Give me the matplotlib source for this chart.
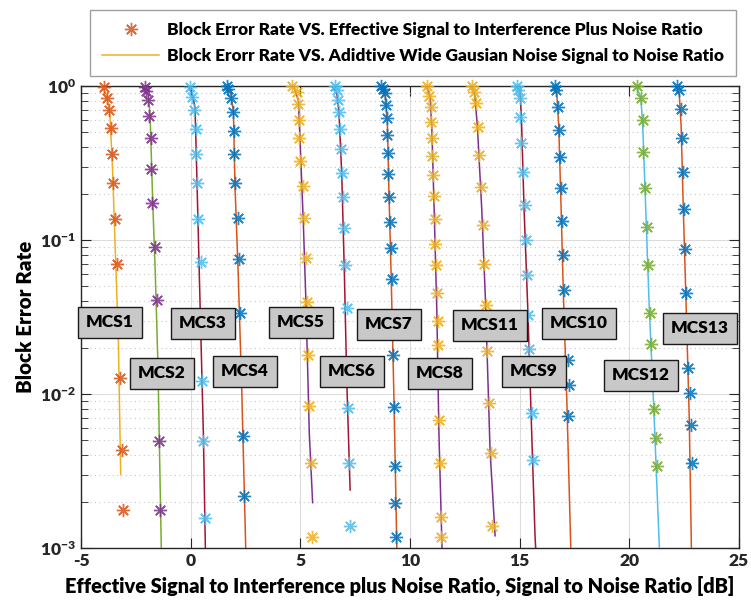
import matplotlib
matplotlib.use("Agg")
import matplotlib.pyplot as plt
from matplotlib.ticker import LogLocator, NullFormatter

plt.rcParams['font.family'] = ['Lato', 'DejaVu Sans']
plt.rcParams['font.weight'] = 'heavy'
plt.rcParams['mathtext.fontset'] = 'custom'
plt.rcParams['mathtext.rm'] = 'Lato:heavy'
plt.rcParams['mathtext.bf'] = 'Lato:heavy'
plt.rcParams['mathtext.it'] = 'Lato:heavy'
plt.rcParams['axes.unicode_minus'] = False

# BLER vs ESINR (markers) and BLER vs AWGN SNR (lines), per MCS
mcs1_esinr_x = [-3.95, -3.80, -3.71, -3.65, -3.59, -3.54, -3.45, -3.37, -3.22, -3.14, -3.10]
mcs1_esinr_bler = [0.99, 0.84, 0.70, 0.535, 0.363, 0.235, 0.136, 0.070, 0.0127, 0.00435, 0.00176]
mcs1_awgn_x = [-4.06, -3.83, -3.68, -3.55, -3.45, -3.30, -3.19]
mcs1_awgn_bler = [1.0, 0.87, 0.65, 0.264, 0.097, 0.0235, 0.003]

mcs2_esinr_x = [-2.08, -2.03, -1.93, -1.89, -1.82, -1.81, -1.75, -1.61, -1.55, -1.46, -1.40]
mcs2_esinr_bler = [0.99, 0.93, 0.81, 0.635, 0.459, 0.291, 0.173, 0.090, 0.0405, 0.00495, 0.00176]
mcs2_awgn_x = [-2.16, -1.93, -1.85, -1.73, -1.61, -1.49, -1.34]
mcs2_awgn_bler = [1.0, 0.87, 0.65, 0.177, 0.059, 0.015, 0.001]

mcs3_esinr_x = [-0.03, 0.05, 0.17, 0.23, 0.26, 0.30, 0.35, 0.46, 0.53, 0.58, 0.64]
mcs3_esinr_bler = [0.99, 0.85, 0.70, 0.527, 0.363, 0.235, 0.136, 0.072, 0.0121, 0.00495, 0.00157]
mcs3_awgn_x = [-0.11, 0.09, 0.20, 0.28, 0.43, 0.58, 0.67]
mcs3_awgn_bler = [1.0, 0.87, 0.72, 0.264, 0.0376, 0.0055, 0.001]

mcs4_esinr_x = [1.64, 1.72, 1.83, 1.92, 1.98, 1.99, 2.02, 2.17, 2.22, 2.25, 2.37, 2.42]
mcs4_esinr_bler = [1.0, 0.95, 0.83, 0.674, 0.51, 0.361, 0.235, 0.139, 0.0749, 0.0335, 0.00536, 0.00217]
mcs4_awgn_x = [1.52, 1.83, 1.95, 2.02, 2.17, 2.33, 2.51]
mcs4_awgn_bler = [1.0, 0.896, 0.68, 0.227, 0.059, 0.0105, 0.001]

mcs5_esinr_x = [4.64, 4.83, 4.91, 4.94, 4.95, 4.99, 5.11, 5.17, 5.25, 5.29, 5.35, 5.41, 5.47, 5.55]
mcs5_esinr_bler = [1.0, 0.92, 0.76, 0.60, 0.457, 0.327, 0.224, 0.139, 0.0768, 0.0395, 0.0180, 0.00832, 0.00356, 0.00118]
mcs5_awgn_x = [4.68, 4.91, 4.99, 5.14, 5.26, 5.41, 5.56]
mcs5_awgn_bler = [1.0, 0.81, 0.435, 0.125, 0.0376, 0.0055, 0.00197]

mcs6_esinr_x = [6.58, 6.66, 6.73, 6.76, 6.81, 6.84, 6.90, 6.95, 6.98, 7.04, 7.12, 7.18, 7.22, 7.27]
mcs6_esinr_bler = [1.0, 0.94, 0.81, 0.68, 0.525, 0.389, 0.274, 0.19, 0.12, 0.069, 0.0363, 0.00816, 0.00356, 0.00138]
mcs6_awgn_x = [6.46, 6.66, 6.76, 6.89, 7.01, 7.12, 7.27]
mcs6_awgn_bler = [1.0, 0.896, 0.68, 0.264, 0.059, 0.0117, 0.00238]

mcs7_esinr_x = [8.70, 8.78, 8.86, 8.91, 8.94, 8.97, 8.98, 9.01, 9.06, 9.09, 9.12, 9.17, 9.24, 9.27, 9.30, 9.33, 9.36]
mcs7_esinr_bler = [1.0, 0.96, 0.896, 0.752, 0.622, 0.48, 0.365, 0.267, 0.19, 0.131, 0.0887, 0.0561, 0.0178, 0.0082, 0.00339, 0.00197, 0.00118]
mcs7_awgn_x = [8.67, 8.86, 8.97, 9.04, 9.14, 9.27, 9.40]
mcs7_awgn_bler = [1.0, 0.896, 0.557, 0.205, 0.059, 0.0091, 0.001]

mcs8_esinr_x = [10.79, 10.88, 10.95, 10.96, 10.99, 11.02, 11.07, 11.10, 11.13, 11.14, 11.19, 11.22, 11.27, 11.27, 11.34, 11.37, 11.42, 11.43]
mcs8_esinr_bler = [1.0, 0.865, 0.727, 0.586, 0.457, 0.351, 0.264, 0.192, 0.136, 0.0947, 0.0685, 0.0455, 0.0296, 0.0209, 0.00678, 0.00354, 0.00158, 0.00118]
mcs8_awgn_x = [10.73, 10.91, 10.99, 11.10, 11.22, 11.32, 11.46]
mcs8_awgn_bler = [1.0, 0.87, 0.557, 0.16, 0.0358, 0.0055, 0.001]

mcs9_esinr_x = [14.87, 14.94, 15.02, 15.02, 15.06, 15.17, 15.25, 15.29, 15.35, 15.40, 15.44, 15.57, 15.63]
mcs9_esinr_bler = [1.0, 0.94, 0.83, 0.63, 0.424, 0.277, 0.170, 0.0995, 0.0589, 0.0327, 0.0195, 0.00754, 0.00374]
mcs9_awgn_x = [14.79, 15.02, 15.09, 15.20, 15.37, 15.55, 15.70, 15.73]
mcs9_awgn_bler = [1.0, 0.94, 0.557, 0.16, 0.0358, 0.0055, 0.0012, 0.001]

mcs10_esinr_x = [16.61, 16.66, 16.74, 16.80, 16.84, 16.87, 16.92, 16.96, 17.01, 17.19, 17.24, 17.22]
mcs10_esinr_bler = [1.0, 0.94, 0.727, 0.517, 0.344, 0.219, 0.133, 0.0803, 0.0471, 0.0167, 0.0115, 0.00716]
mcs10_awgn_x = [16.54, 16.69, 16.78, 16.89, 16.99, 17.15, 17.33]
mcs10_awgn_bler = [1.0, 0.896, 0.557, 0.16, 0.046, 0.0091, 0.001]

mcs11_esinr_x = [12.82, 12.92, 13.01, 13.09, 13.16, 13.24, 13.32, 13.39, 13.47, 13.53, 13.60, 13.68, 13.76]
mcs11_esinr_bler = [1.0, 0.92, 0.77, 0.543, 0.356, 0.221, 0.125, 0.070, 0.0376, 0.0191, 0.00879, 0.00416, 0.00138]
mcs11_awgn_x = [12.77, 12.94, 13.07, 13.27, 13.45, 13.65, 13.88]
mcs11_awgn_bler = [1.0, 0.896, 0.557, 0.16, 0.0376, 0.0043, 0.0012]

mcs12_esinr_x = [20.37, 20.52, 20.61, 20.64, 20.72, 20.80, 20.87, 20.95, 20.99, 21.14, 21.22, 21.28]
mcs12_esinr_bler = [1.0, 0.84, 0.60, 0.374, 0.218, 0.122, 0.0685, 0.0337, 0.0212, 0.0080, 0.00518, 0.00339]
mcs12_awgn_x = [20.31, 20.52, 20.61, 20.72, 20.91, 21.10, 21.37]
mcs12_awgn_bler = [1.0, 0.85, 0.557, 0.205, 0.0358, 0.0091, 0.001]

mcs13_esinr_x = [22.19, 22.25, 22.35, 22.39, 22.44, 22.48, 22.54, 22.59, 22.69, 22.76, 22.80, 22.86]
mcs13_esinr_bler = [1.0, 0.94, 0.708, 0.461, 0.277, 0.158, 0.0869, 0.0455, 0.0147, 0.0101, 0.00632, 0.00356]
mcs13_awgn_x = [22.13, 22.28, 22.36, 22.46, 22.59, 22.73, 22.83]
mcs13_awgn_bler = [1.0, 0.87, 0.557, 0.16, 0.0376, 0.0071, 0.001]

mcs_names = ['MCS1', 'MCS2', 'MCS3', 'MCS4', 'MCS5', 'MCS6', 'MCS7',
             'MCS8', 'MCS9', 'MCS10', 'MCS11', 'MCS12', 'MCS13']

# colores por defecto de MATLAB
AZUL = '#0072BD'
NARANJA = '#D95319'
AMARILLO = '#EDB120'
MORADO = '#7E2F8E'
VERDE = '#77AC30'
CELESTE = '#4DBEEE'
GRANATE = '#A2142F'

curvas = [
    (mcs1_esinr_x, mcs1_esinr_bler, mcs1_awgn_x, mcs1_awgn_bler, NARANJA, AMARILLO),
    (mcs2_esinr_x, mcs2_esinr_bler, mcs2_awgn_x, mcs2_awgn_bler, MORADO, VERDE),
    (mcs3_esinr_x, mcs3_esinr_bler, mcs3_awgn_x, mcs3_awgn_bler, CELESTE, GRANATE),
    (mcs4_esinr_x, mcs4_esinr_bler, mcs4_awgn_x, mcs4_awgn_bler, AZUL, NARANJA),
    (mcs5_esinr_x, mcs5_esinr_bler, mcs5_awgn_x, mcs5_awgn_bler, AMARILLO, MORADO),
    (mcs6_esinr_x, mcs6_esinr_bler, mcs6_awgn_x, mcs6_awgn_bler, CELESTE, GRANATE),
    (mcs7_esinr_x, mcs7_esinr_bler, mcs7_awgn_x, mcs7_awgn_bler, AZUL, NARANJA),
    (mcs8_esinr_x, mcs8_esinr_bler, mcs8_awgn_x, mcs8_awgn_bler, AMARILLO, MORADO),
    (mcs9_esinr_x, mcs9_esinr_bler, mcs9_awgn_x, mcs9_awgn_bler, CELESTE, GRANATE),
    (mcs10_esinr_x, mcs10_esinr_bler, mcs10_awgn_x, mcs10_awgn_bler, AZUL, NARANJA),
    (mcs11_esinr_x, mcs11_esinr_bler, mcs11_awgn_x, mcs11_awgn_bler, AMARILLO, MORADO),
    (mcs12_esinr_x, mcs12_esinr_bler, mcs12_awgn_x, mcs12_awgn_bler, VERDE, CELESTE),
    (mcs13_esinr_x, mcs13_esinr_bler, mcs13_awgn_x, mcs13_awgn_bler, AZUL, NARANJA),
]

# posicion de las etiquetas (x en dB, y en BLER)
etiquetas_pos = [(-3.68, 0.0292), (-1.31, 0.0136), (0.56, 0.0287), (2.48, 0.0140),
                 (5.03, 0.0292), (7.36, 0.0140), (9.04, 0.0283), (11.37, 0.0136),
                 (15.66, 0.0140), (17.71, 0.0287), (13.65, 0.0279), (20.54, 0.0132),
                 (23.23, 0.0267)]

fig = plt.figure(figsize=(7.51, 6.05), dpi=100)
ax = fig.add_axes([81 / 751, 1 - 548 / 605, 658 / 751, 462 / 605])

asterisco = (8, 2, 0)
h_marker = h_linea = None
for ex, ey, ax_x, ax_y, c_mark, c_lin in curvas:
    ln, = ax.plot(ax_x, ax_y, '-', color=c_lin, lw=1.1, zorder=3)
    mk, = ax.plot(ex, ey, linestyle='none', marker=asterisco, ms=9.5, mew=1.0,
                  color=c_mark, alpha=0.85, zorder=4, clip_on=False)
    if h_marker is None:
        h_marker, h_linea = mk, ln

for nombre, (px, py) in zip(mcs_names, etiquetas_pos):
    ax.text(px, py, nombre, ha='center', va='center', fontsize=12.5, fontweight='heavy',
            zorder=6, bbox=dict(boxstyle='square,pad=0.45', facecolor='#C8C8C8',
                                edgecolor='#1a1a1a', linewidth=1.0))

ax.set_yscale('log')
ax.set_xlim(-5, 25)
ax.set_ylim(1e-3, 1)
ax.set_xticks([-5, 0, 5, 10, 15, 20, 25])
ax.yaxis.set_major_locator(LogLocator(base=10, numticks=10))
ax.yaxis.set_minor_locator(LogLocator(base=10, subs=range(2, 10), numticks=10))
ax.yaxis.set_minor_formatter(NullFormatter())

ax.grid(True, which='major', color='#dcdcdc', lw=0.8, ls='-')
ax.grid(True, which='minor', axis='y', color='#c8c8c8', lw=0.8, ls=(0, (1, 3)))
ax.set_axisbelow(True)

ax.tick_params(which='both', direction='in', top=True, right=True, colors='#262626',
               labelsize=12.5)
ax.tick_params(which='major', length=7)
ax.tick_params(which='minor', length=5)
for s in ax.spines.values():
    s.set_color('#262626')
    s.set_linewidth(1.0)

ax.set_xlabel('Effective Signal to Interference plus Noise Ratio, Signal to Noise Ratio [dB]',
              fontsize=14.4, fontweight='heavy', labelpad=5)
ax.xaxis.label.set_x(0.484)
ax.set_ylabel('Block Error Rate', fontsize=14.8, fontweight='heavy', labelpad=4)

leg = fig.legend([h_marker, h_linea],
                 ['Block Error Rate VS. Effective Signal to Interference Plus Noise Ratio',
                  'Block Erorr Rate VS. Adidtive Wide Gausian Noise Signal to Noise Ratio'],
                 loc='upper center', bbox_to_anchor=(413 / 751, 1 - 10 / 605),
                 borderaxespad=0, fontsize=12.4, frameon=True, fancybox=False,
                 edgecolor='#888888', handlelength=3.3, handletextpad=0.45,
                 borderpad=0.7, labelspacing=0.6)
leg.get_frame().set_linewidth(1.0)
for t in leg.get_texts():
    t.set_fontweight('heavy')

fig.savefig('out.png', dpi=100)
